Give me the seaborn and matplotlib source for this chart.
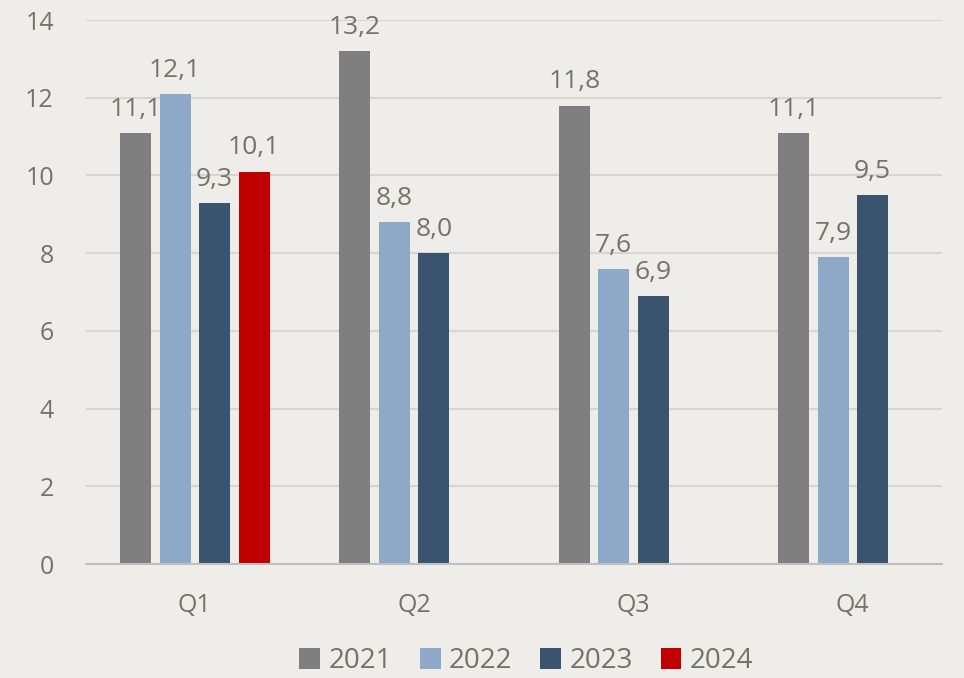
import numpy as np
import pandas as pd
import matplotlib
matplotlib.use("Agg")
import matplotlib.pyplot as plt
import seaborn as sns

# Data
quarters = ["Q1", "Q2", "Q3", "Q4"]
years = ["2021", "2022", "2023", "2024"]
v2021 = [11.1, 13.2, 11.8, 11.1]
v2022 = [12.1, 8.8, 7.6, 7.9]
v2023 = [9.3, 8.0, 6.9, 9.5]
v2024 = [10.1, np.nan, np.nan, np.nan]

colors = ["#7F7F7F", "#8EA9C8", "#3A5470", "#C00000"]
bg = "#EEEDE9"
txt = "#747366"

rows = []
for year, vals in zip(years, [v2021, v2022, v2023, v2024]):
    for q, v in zip(quarters, vals):
        if not np.isnan(v):
            rows.append({"quarter": q, "year": year, "value": v})
df = pd.DataFrame(rows)

sns.set_theme(style="white")
plt.rcParams["font.family"] = ["Open Sans", "DejaVu Sans"]

fig = plt.figure(figsize=(9.64, 6.78), dpi=100, facecolor=bg)
ax = fig.add_axes([0.089, 0.168, 0.888, 0.8025])
ax.set_facecolor(bg)

sns.barplot(data=df, x="quarter", y="value", hue="year", order=quarters,
            hue_order=years, palette=colors, width=0.72, gap=0.215,
            saturation=1, errorbar=None, linewidth=0, ax=ax)

for c in ax.containers:
    ax.bar_label(c, labels=[f"{v:.1f}".replace(".", ",") for v in c.datavalues],
                 padding=8, fontsize=19, color=txt)

ax.set_ylim(0, 14)
ax.set_xlim(-0.497, 3.406)
ax.set_yticks(range(0, 15, 2))
ax.yaxis.grid(True, color="#D6D5D1", linewidth=1.5)
ax.set_axisbelow(True)
for s in ["left", "right", "top"]:
    ax.spines[s].set_visible(False)
ax.spines["bottom"].set_color("#BFBFBF")
ax.spines["bottom"].set_linewidth(1.5)
ax.tick_params(axis="y", length=0, pad=23, labelsize=18, labelcolor=txt)
ax.tick_params(axis="x", length=0, pad=21, labelsize=18, labelcolor=txt)
ax.set_xlabel("")
ax.set_ylabel("")

handles = [c.patches[0] for c in ax.containers]
ax.get_legend().remove()
fig.legend(handles, years, loc="center", bbox_to_anchor=(0.546, 0.025), ncol=4,
           frameon=False, fontsize=20, labelcolor=txt, handlelength=0.75,
           handleheight=0.75, handletextpad=0.3, columnspacing=1.0)

plt.savefig("out.png", dpi=100, facecolor=bg)
